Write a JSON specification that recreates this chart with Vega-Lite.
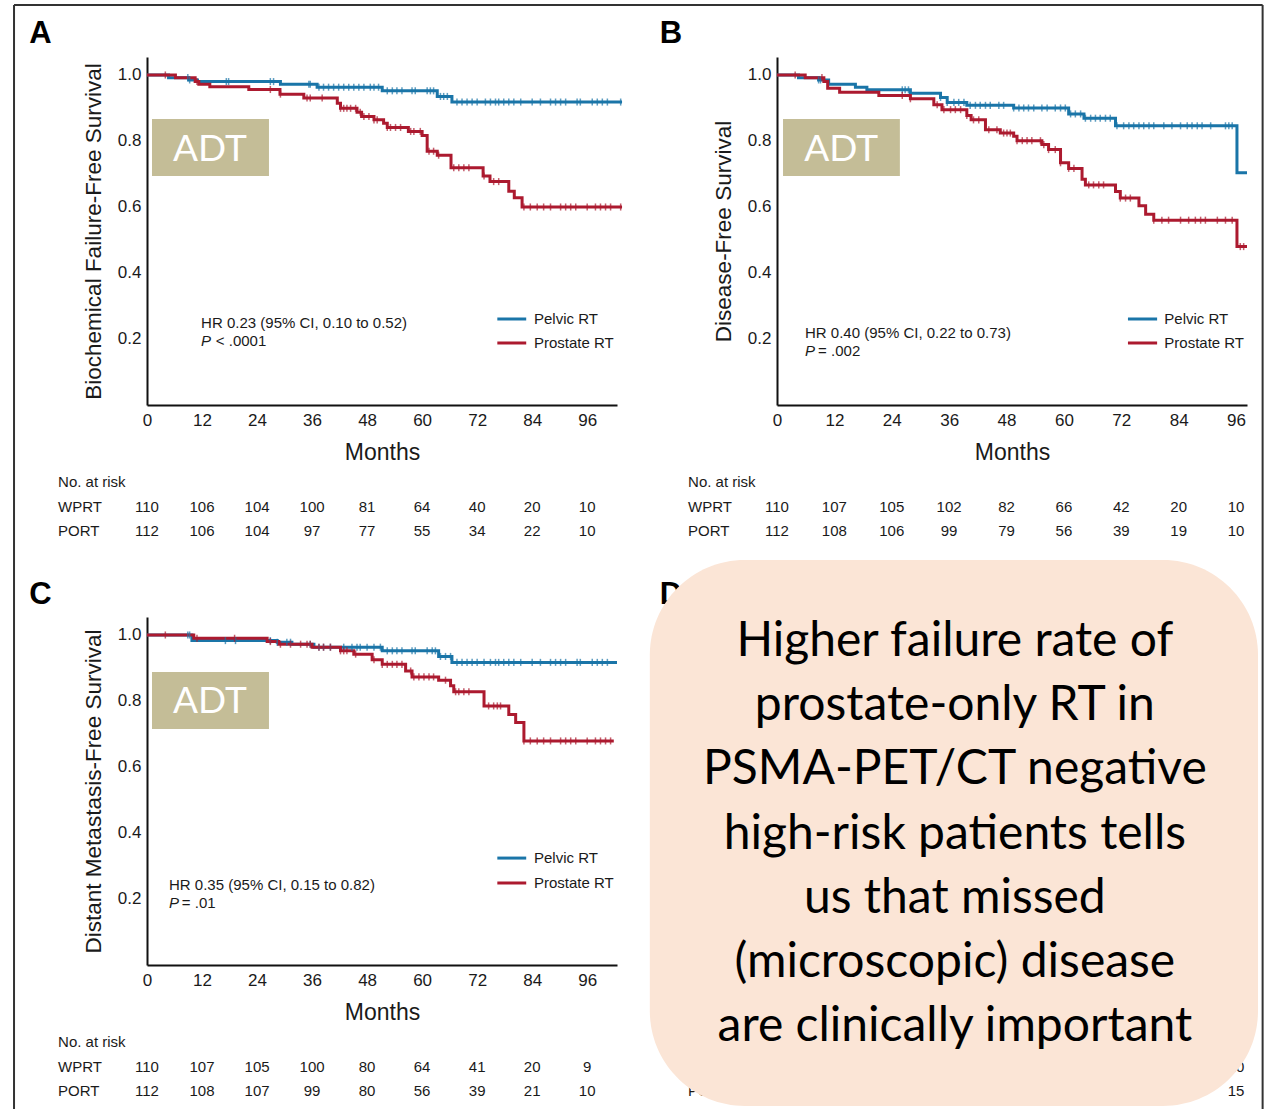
{
"$schema": "https://vega.github.io/schema/vega-lite/v6.json",
"background": "white",
"padding": {"left": 13, "top": 4, "right": 5, "bottom": 0},
"columns": 2,
"spacing": {"row": 212, "column": 160},
"bounds": "flush",
"config": {
 "view": {"stroke": null},
 "axis": {"ticks": false, "grid": false, "domainColor": "#111", "domainWidth": 2, "labelFont": "Liberation Sans", "labelFontSize": 17, "labelColor": "#1a1a1a", "titleFont": "Liberation Sans", "titleFontWeight": "normal", "titleColor": "#1a1a1a", "labelFlush": false},
 "axisX": {"labelPadding": 7, "titleFontSize": 23, "titlePadding": 13},
 "axisY": {"labelPadding": 6, "titleFontSize": 22.5, "titlePadding": 12},
 "text": {"font": "Liberation Sans", "fontSize": 15, "color": "#1a1a1a"}
},
"datasets": {
 "frame": [{"m": -29.0, "v": 1.212, "m2": 243.3, "v2": 1.212}, {"m": -29.0, "v": 1.212, "m2": -29.0, "v2": -2.14}, {"m": 243.3, "v": 1.212, "m2": 243.3, "v2": -2.14}],
 "kmA": [
  {"arm":"pelvic","m":0,"v":1},{"arm":"pelvic","m":4.7,"v":0.992},{"arm":"pelvic","m":9.1,"v":0.985},{"arm":"pelvic","m":11,"v":0.98},{"arm":"pelvic","m":29.1,"v":0.972},{"arm":"pelvic","m":37.1,"v":0.963},{"arm":"pelvic","m":51.3,"v":0.952},{"arm":"pelvic","m":63.3,"v":0.935},{"arm":"pelvic","m":66.5,"v":0.918},{"arm":"pelvic","m":103.6,"v":0.918},
  {"arm":"prostate","m":0,"v":1},{"arm":"prostate","m":6.2,"v":0.992},{"arm":"prostate","m":10.5,"v":0.98},{"arm":"prostate","m":11.3,"v":0.972},{"arm":"prostate","m":13.7,"v":0.964},{"arm":"prostate","m":22.2,"v":0.956},{"arm":"prostate","m":29,"v":0.942},{"arm":"prostate","m":34.2,"v":0.93},{"arm":"prostate","m":41.5,"v":0.914},{"arm":"prostate","m":42.2,"v":0.899},{"arm":"prostate","m":45.8,"v":0.887},{"arm":"prostate","m":46.8,"v":0.874},{"arm":"prostate","m":49.5,"v":0.864},{"arm":"prostate","m":51.6,"v":0.854},{"arm":"prostate","m":52.4,"v":0.841},{"arm":"prostate","m":57,"v":0.829},{"arm":"prostate","m":60,"v":0.817},{"arm":"prostate","m":61.1,"v":0.769},{"arm":"prostate","m":63.3,"v":0.757},{"arm":"prostate","m":66.3,"v":0.719},{"arm":"prostate","m":73.3,"v":0.694},{"arm":"prostate","m":74.8,"v":0.677},{"arm":"prostate","m":78.9,"v":0.648},{"arm":"prostate","m":80.1,"v":0.628},{"arm":"prostate","m":81.8,"v":0.6},{"arm":"prostate","m":103.6,"v":0.6}
 ],
 "cenA": [
  {"arm":"pelvic","m":8.9,"v":0.992},{"arm":"pelvic","m":9.3,"v":0.985},{"arm":"pelvic","m":17.3,"v":0.98},{"arm":"pelvic","m":17.8,"v":0.98},{"arm":"pelvic","m":26.9,"v":0.98},{"arm":"pelvic","m":27.6,"v":0.98},{"arm":"pelvic","m":35.3,"v":0.972},{"arm":"pelvic","m":35.6,"v":0.972},{"arm":"pelvic","m":37.5,"v":0.963},{"arm":"pelvic","m":38.5,"v":0.963},{"arm":"pelvic","m":39.6,"v":0.963},{"arm":"pelvic","m":40.7,"v":0.963},{"arm":"pelvic","m":41.8,"v":0.963},{"arm":"pelvic","m":42.9,"v":0.963},{"arm":"pelvic","m":44,"v":0.963},{"arm":"pelvic","m":45.1,"v":0.963},{"arm":"pelvic","m":46.2,"v":0.963},{"arm":"pelvic","m":47.3,"v":0.963},{"arm":"pelvic","m":48.7,"v":0.963},{"arm":"pelvic","m":49.5,"v":0.963},{"arm":"pelvic","m":50.5,"v":0.963},{"arm":"pelvic","m":52.4,"v":0.952},{"arm":"pelvic","m":53.5,"v":0.952},{"arm":"pelvic","m":54.5,"v":0.952},{"arm":"pelvic","m":55.6,"v":0.952},{"arm":"pelvic","m":57.8,"v":0.952},{"arm":"pelvic","m":58.5,"v":0.952},{"arm":"pelvic","m":61.1,"v":0.952},{"arm":"pelvic","m":61.8,"v":0.952},{"arm":"pelvic","m":62.5,"v":0.952},{"arm":"pelvic","m":64,"v":0.935},{"arm":"pelvic","m":64.7,"v":0.935},{"arm":"pelvic","m":65.5,"v":0.935},{"arm":"pelvic","m":67.6,"v":0.918},{"arm":"pelvic","m":68.7,"v":0.918},{"arm":"pelvic","m":69.8,"v":0.918},{"arm":"pelvic","m":70.9,"v":0.918},{"arm":"pelvic","m":72,"v":0.918},{"arm":"pelvic","m":73.8,"v":0.918},{"arm":"pelvic","m":74.9,"v":0.918},{"arm":"pelvic","m":76,"v":0.918},{"arm":"pelvic","m":76.7,"v":0.918},{"arm":"pelvic","m":77.8,"v":0.918},{"arm":"pelvic","m":78.9,"v":0.918},{"arm":"pelvic","m":80,"v":0.918},{"arm":"pelvic","m":81.5,"v":0.918},{"arm":"pelvic","m":84,"v":0.918},{"arm":"pelvic","m":85.8,"v":0.918},{"arm":"pelvic","m":88,"v":0.918},{"arm":"pelvic","m":89.1,"v":0.918},{"arm":"pelvic","m":90.2,"v":0.918},{"arm":"pelvic","m":91.3,"v":0.918},{"arm":"pelvic","m":93.8,"v":0.918},{"arm":"pelvic","m":94.5,"v":0.918},{"arm":"pelvic","m":97.1,"v":0.918},{"arm":"pelvic","m":98.2,"v":0.918},{"arm":"pelvic","m":99.3,"v":0.918},{"arm":"pelvic","m":100.4,"v":0.918},{"arm":"pelvic","m":103.3,"v":0.918},
  {"arm":"prostate","m":4,"v":1},{"arm":"prostate","m":10.9,"v":0.98},{"arm":"prostate","m":26.9,"v":0.956},{"arm":"prostate","m":29.1,"v":0.942},{"arm":"prostate","m":34.9,"v":0.93},{"arm":"prostate","m":35.6,"v":0.93},{"arm":"prostate","m":38.2,"v":0.93},{"arm":"prostate","m":42.2,"v":0.899},{"arm":"prostate","m":42.9,"v":0.899},{"arm":"prostate","m":43.6,"v":0.899},{"arm":"prostate","m":44.4,"v":0.899},{"arm":"prostate","m":45.5,"v":0.899},{"arm":"prostate","m":46.5,"v":0.887},{"arm":"prostate","m":47.3,"v":0.874},{"arm":"prostate","m":48.4,"v":0.874},{"arm":"prostate","m":49.5,"v":0.864},{"arm":"prostate","m":50.2,"v":0.864},{"arm":"prostate","m":52.4,"v":0.841},{"arm":"prostate","m":53.1,"v":0.841},{"arm":"prostate","m":54.2,"v":0.841},{"arm":"prostate","m":55.3,"v":0.841},{"arm":"prostate","m":57.5,"v":0.829},{"arm":"prostate","m":58.2,"v":0.829},{"arm":"prostate","m":59.6,"v":0.829},{"arm":"prostate","m":61.5,"v":0.769},{"arm":"prostate","m":62.5,"v":0.769},{"arm":"prostate","m":63.6,"v":0.757},{"arm":"prostate","m":66.9,"v":0.719},{"arm":"prostate","m":68,"v":0.719},{"arm":"prostate","m":69.1,"v":0.719},{"arm":"prostate","m":70.2,"v":0.719},{"arm":"prostate","m":73.5,"v":0.694},{"arm":"prostate","m":75.6,"v":0.677},{"arm":"prostate","m":76.7,"v":0.677},{"arm":"prostate","m":82.2,"v":0.6},{"arm":"prostate","m":83.6,"v":0.6},{"arm":"prostate","m":85.1,"v":0.6},{"arm":"prostate","m":86.5,"v":0.6},{"arm":"prostate","m":88,"v":0.6},{"arm":"prostate","m":90.2,"v":0.6},{"arm":"prostate","m":91.3,"v":0.6},{"arm":"prostate","m":92.4,"v":0.6},{"arm":"prostate","m":93.5,"v":0.6},{"arm":"prostate","m":96,"v":0.6},{"arm":"prostate","m":97.8,"v":0.6},{"arm":"prostate","m":98.9,"v":0.6},{"arm":"prostate","m":100,"v":0.6},{"arm":"prostate","m":101.1,"v":0.6},{"arm":"prostate","m":103.3,"v":0.6}
 ],
 "kmB": [
  {"arm":"pelvic","m":0,"v":1},{"arm":"pelvic","m":4.5,"v":0.992},{"arm":"pelvic","m":8.7,"v":0.985},{"arm":"pelvic","m":10.8,"v":0.972},{"arm":"pelvic","m":16.4,"v":0.963},{"arm":"pelvic","m":18.8,"v":0.955},{"arm":"pelvic","m":27.9,"v":0.945},{"arm":"pelvic","m":34.2,"v":0.932},{"arm":"pelvic","m":35.6,"v":0.917},{"arm":"pelvic","m":39.7,"v":0.908},{"arm":"pelvic","m":49.5,"v":0.9},{"arm":"pelvic","m":61,"v":0.882},{"arm":"pelvic","m":64.2,"v":0.869},{"arm":"pelvic","m":70.8,"v":0.846},{"arm":"pelvic","m":96.2,"v":0.704},{"arm":"pelvic","m":98.3,"v":0.704},
  {"arm":"prostate","m":0,"v":1},{"arm":"prostate","m":5.9,"v":0.992},{"arm":"prostate","m":9.8,"v":0.98},{"arm":"prostate","m":10.6,"v":0.96},{"arm":"prostate","m":13.1,"v":0.948},{"arm":"prostate","m":21.3,"v":0.938},{"arm":"prostate","m":27.9,"v":0.928},{"arm":"prostate","m":32.8,"v":0.91},{"arm":"prostate","m":34.5,"v":0.895},{"arm":"prostate","m":39.7,"v":0.877},{"arm":"prostate","m":40.6,"v":0.864},{"arm":"prostate","m":43.6,"v":0.834},{"arm":"prostate","m":46.7,"v":0.824},{"arm":"prostate","m":49.5,"v":0.814},{"arm":"prostate","m":50.2,"v":0.801},{"arm":"prostate","m":55.4,"v":0.789},{"arm":"prostate","m":56.8,"v":0.774},{"arm":"prostate","m":59.3,"v":0.734},{"arm":"prostate","m":61,"v":0.717},{"arm":"prostate","m":63.8,"v":0.684},{"arm":"prostate","m":64.5,"v":0.667},{"arm":"prostate","m":70.8,"v":0.647},{"arm":"prostate","m":71.8,"v":0.627},{"arm":"prostate","m":75.7,"v":0.604},{"arm":"prostate","m":77.1,"v":0.578},{"arm":"prostate","m":78.8,"v":0.56},{"arm":"prostate","m":96.2,"v":0.48},{"arm":"prostate","m":98.3,"v":0.48}
 ],
 "cenB": [
  {"arm":"pelvic","m":8.7,"v":0.985},{"arm":"pelvic","m":9.1,"v":0.985},{"arm":"pelvic","m":26.2,"v":0.955},{"arm":"pelvic","m":26.8,"v":0.955},{"arm":"pelvic","m":27.5,"v":0.955},{"arm":"pelvic","m":34.2,"v":0.932},{"arm":"pelvic","m":35.6,"v":0.917},{"arm":"pelvic","m":37,"v":0.917},{"arm":"pelvic","m":38,"v":0.917},{"arm":"pelvic","m":39.1,"v":0.917},{"arm":"pelvic","m":40.4,"v":0.908},{"arm":"pelvic","m":41.5,"v":0.908},{"arm":"pelvic","m":42.5,"v":0.908},{"arm":"pelvic","m":43.6,"v":0.908},{"arm":"pelvic","m":44.6,"v":0.908},{"arm":"pelvic","m":46.4,"v":0.908},{"arm":"pelvic","m":47.4,"v":0.908},{"arm":"pelvic","m":49.5,"v":0.9},{"arm":"pelvic","m":50.6,"v":0.9},{"arm":"pelvic","m":51.6,"v":0.9},{"arm":"pelvic","m":52.6,"v":0.9},{"arm":"pelvic","m":53.7,"v":0.9},{"arm":"pelvic","m":55.4,"v":0.9},{"arm":"pelvic","m":56.5,"v":0.9},{"arm":"pelvic","m":58.2,"v":0.9},{"arm":"pelvic","m":59.3,"v":0.9},{"arm":"pelvic","m":60.3,"v":0.9},{"arm":"pelvic","m":61.4,"v":0.882},{"arm":"pelvic","m":62.4,"v":0.882},{"arm":"pelvic","m":63.5,"v":0.882},{"arm":"pelvic","m":64.5,"v":0.869},{"arm":"pelvic","m":65.6,"v":0.869},{"arm":"pelvic","m":66.6,"v":0.869},{"arm":"pelvic","m":67.6,"v":0.869},{"arm":"pelvic","m":68.7,"v":0.869},{"arm":"pelvic","m":69.7,"v":0.869},{"arm":"pelvic","m":71.1,"v":0.846},{"arm":"pelvic","m":72.5,"v":0.846},{"arm":"pelvic","m":73.6,"v":0.846},{"arm":"pelvic","m":74.6,"v":0.846},{"arm":"pelvic","m":75.7,"v":0.846},{"arm":"pelvic","m":76.7,"v":0.846},{"arm":"pelvic","m":77.8,"v":0.846},{"arm":"pelvic","m":78.8,"v":0.846},{"arm":"pelvic","m":80.9,"v":0.846},{"arm":"pelvic","m":82.6,"v":0.846},{"arm":"pelvic","m":84.4,"v":0.846},{"arm":"pelvic","m":85.8,"v":0.846},{"arm":"pelvic","m":86.8,"v":0.846},{"arm":"pelvic","m":87.9,"v":0.846},{"arm":"pelvic","m":88.9,"v":0.846},{"arm":"pelvic","m":90.7,"v":0.846},{"arm":"pelvic","m":93.8,"v":0.846},{"arm":"pelvic","m":94.5,"v":0.846},{"arm":"pelvic","m":95.2,"v":0.846},
  {"arm":"prostate","m":3.8,"v":1},{"arm":"prostate","m":9.4,"v":0.992},{"arm":"prostate","m":26.2,"v":0.938},{"arm":"prostate","m":27.9,"v":0.928},{"arm":"prostate","m":33.5,"v":0.91},{"arm":"prostate","m":34.9,"v":0.895},{"arm":"prostate","m":36.3,"v":0.895},{"arm":"prostate","m":37.3,"v":0.895},{"arm":"prostate","m":38.4,"v":0.895},{"arm":"prostate","m":39.7,"v":0.877},{"arm":"prostate","m":41.1,"v":0.864},{"arm":"prostate","m":42.2,"v":0.864},{"arm":"prostate","m":44.3,"v":0.834},{"arm":"prostate","m":46,"v":0.834},{"arm":"prostate","m":47.4,"v":0.824},{"arm":"prostate","m":48.1,"v":0.824},{"arm":"prostate","m":48.8,"v":0.824},{"arm":"prostate","m":50.2,"v":0.801},{"arm":"prostate","m":51.3,"v":0.801},{"arm":"prostate","m":52.3,"v":0.801},{"arm":"prostate","m":53.3,"v":0.801},{"arm":"prostate","m":55.1,"v":0.801},{"arm":"prostate","m":55.8,"v":0.789},{"arm":"prostate","m":56.8,"v":0.774},{"arm":"prostate","m":58.2,"v":0.774},{"arm":"prostate","m":59.3,"v":0.734},{"arm":"prostate","m":61,"v":0.717},{"arm":"prostate","m":62.1,"v":0.717},{"arm":"prostate","m":65.2,"v":0.667},{"arm":"prostate","m":66.2,"v":0.667},{"arm":"prostate","m":67.3,"v":0.667},{"arm":"prostate","m":68.3,"v":0.667},{"arm":"prostate","m":71.8,"v":0.627},{"arm":"prostate","m":72.9,"v":0.627},{"arm":"prostate","m":73.9,"v":0.627},{"arm":"prostate","m":78.8,"v":0.56},{"arm":"prostate","m":80.5,"v":0.56},{"arm":"prostate","m":81.9,"v":0.56},{"arm":"prostate","m":84.4,"v":0.56},{"arm":"prostate","m":86.1,"v":0.56},{"arm":"prostate","m":87.5,"v":0.56},{"arm":"prostate","m":88.6,"v":0.56},{"arm":"prostate","m":89.6,"v":0.56},{"arm":"prostate","m":92.1,"v":0.56},{"arm":"prostate","m":93.8,"v":0.56},{"arm":"prostate","m":95.2,"v":0.56},{"arm":"prostate","m":96.9,"v":0.48},{"arm":"prostate","m":97.6,"v":0.48}
 ],
 "kmC": [
  {"arm":"pelvic","m":0,"v":1},{"arm":"pelvic","m":9.8,"v":0.983},{"arm":"pelvic","m":28.4,"v":0.978},{"arm":"pelvic","m":31.6,"v":0.972},{"arm":"pelvic","m":36.4,"v":0.963},{"arm":"pelvic","m":51.3,"v":0.952},{"arm":"pelvic","m":63.6,"v":0.935},{"arm":"pelvic","m":66.5,"v":0.917},{"arm":"pelvic","m":102.5,"v":0.917},
  {"arm":"prostate","m":0,"v":1},{"arm":"prostate","m":10.2,"v":0.99},{"arm":"prostate","m":26.2,"v":0.98},{"arm":"prostate","m":28.7,"v":0.972},{"arm":"prostate","m":36,"v":0.963},{"arm":"prostate","m":42.2,"v":0.952},{"arm":"prostate","m":45.1,"v":0.942},{"arm":"prostate","m":49.1,"v":0.925},{"arm":"prostate","m":51.3,"v":0.911},{"arm":"prostate","m":56.4,"v":0.891},{"arm":"prostate","m":57.8,"v":0.873},{"arm":"prostate","m":63.6,"v":0.863},{"arm":"prostate","m":66.2,"v":0.846},{"arm":"prostate","m":66.9,"v":0.828},{"arm":"prostate","m":73.5,"v":0.785},{"arm":"prostate","m":78.9,"v":0.759},{"arm":"prostate","m":80.4,"v":0.735},{"arm":"prostate","m":82.2,"v":0.679},{"arm":"prostate","m":101.8,"v":0.679}
 ],
 "cenC": [
  {"arm":"pelvic","m":8.9,"v":1},{"arm":"pelvic","m":9.3,"v":1},{"arm":"pelvic","m":17.1,"v":0.983},{"arm":"pelvic","m":19.3,"v":0.983},{"arm":"pelvic","m":26.9,"v":0.983},{"arm":"pelvic","m":28.4,"v":0.978},{"arm":"pelvic","m":30.5,"v":0.978},{"arm":"pelvic","m":31.3,"v":0.978},{"arm":"pelvic","m":35.6,"v":0.972},{"arm":"pelvic","m":37.5,"v":0.963},{"arm":"pelvic","m":38.5,"v":0.963},{"arm":"pelvic","m":40,"v":0.963},{"arm":"pelvic","m":42.9,"v":0.963},{"arm":"pelvic","m":44.7,"v":0.963},{"arm":"pelvic","m":45.8,"v":0.963},{"arm":"pelvic","m":46.5,"v":0.963},{"arm":"pelvic","m":48,"v":0.963},{"arm":"pelvic","m":49.5,"v":0.963},{"arm":"pelvic","m":50.9,"v":0.963},{"arm":"pelvic","m":52.4,"v":0.952},{"arm":"pelvic","m":53.5,"v":0.952},{"arm":"pelvic","m":54.5,"v":0.952},{"arm":"pelvic","m":55.6,"v":0.952},{"arm":"pelvic","m":57.8,"v":0.952},{"arm":"pelvic","m":58.5,"v":0.952},{"arm":"pelvic","m":61.1,"v":0.952},{"arm":"pelvic","m":62.2,"v":0.952},{"arm":"pelvic","m":62.9,"v":0.952},{"arm":"pelvic","m":64,"v":0.935},{"arm":"pelvic","m":65.1,"v":0.935},{"arm":"pelvic","m":66.2,"v":0.935},{"arm":"pelvic","m":67.6,"v":0.917},{"arm":"pelvic","m":68.7,"v":0.917},{"arm":"pelvic","m":69.8,"v":0.917},{"arm":"pelvic","m":70.9,"v":0.917},{"arm":"pelvic","m":72,"v":0.917},{"arm":"pelvic","m":73.5,"v":0.917},{"arm":"pelvic","m":74.9,"v":0.917},{"arm":"pelvic","m":76,"v":0.917},{"arm":"pelvic","m":76.7,"v":0.917},{"arm":"pelvic","m":77.8,"v":0.917},{"arm":"pelvic","m":78.9,"v":0.917},{"arm":"pelvic","m":80,"v":0.917},{"arm":"pelvic","m":81.5,"v":0.917},{"arm":"pelvic","m":84,"v":0.917},{"arm":"pelvic","m":85.8,"v":0.917},{"arm":"pelvic","m":88,"v":0.917},{"arm":"pelvic","m":89.1,"v":0.917},{"arm":"pelvic","m":90.2,"v":0.917},{"arm":"pelvic","m":91.3,"v":0.917},{"arm":"pelvic","m":93.8,"v":0.917},{"arm":"pelvic","m":94.5,"v":0.917},{"arm":"pelvic","m":97.1,"v":0.917},{"arm":"pelvic","m":98.2,"v":0.917},{"arm":"pelvic","m":99.3,"v":0.917},{"arm":"pelvic","m":100.4,"v":0.917},
  {"arm":"prostate","m":4,"v":1},{"arm":"prostate","m":10.9,"v":0.99},{"arm":"prostate","m":19.1,"v":0.99},{"arm":"prostate","m":26.9,"v":0.98},{"arm":"prostate","m":29.1,"v":0.972},{"arm":"prostate","m":31.3,"v":0.972},{"arm":"prostate","m":33.5,"v":0.972},{"arm":"prostate","m":34.9,"v":0.972},{"arm":"prostate","m":35.6,"v":0.972},{"arm":"prostate","m":37.5,"v":0.963},{"arm":"prostate","m":38.5,"v":0.963},{"arm":"prostate","m":40,"v":0.963},{"arm":"prostate","m":42.2,"v":0.952},{"arm":"prostate","m":42.9,"v":0.952},{"arm":"prostate","m":43.6,"v":0.952},{"arm":"prostate","m":45.5,"v":0.942},{"arm":"prostate","m":49.5,"v":0.925},{"arm":"prostate","m":51.3,"v":0.911},{"arm":"prostate","m":52.4,"v":0.911},{"arm":"prostate","m":53.5,"v":0.911},{"arm":"prostate","m":54.5,"v":0.911},{"arm":"prostate","m":55.6,"v":0.911},{"arm":"prostate","m":57.5,"v":0.891},{"arm":"prostate","m":58.2,"v":0.873},{"arm":"prostate","m":59.3,"v":0.873},{"arm":"prostate","m":60.4,"v":0.873},{"arm":"prostate","m":61.5,"v":0.873},{"arm":"prostate","m":62.5,"v":0.873},{"arm":"prostate","m":65.1,"v":0.863},{"arm":"prostate","m":67.3,"v":0.828},{"arm":"prostate","m":68,"v":0.828},{"arm":"prostate","m":69.1,"v":0.828},{"arm":"prostate","m":70.2,"v":0.828},{"arm":"prostate","m":74.5,"v":0.785},{"arm":"prostate","m":75.6,"v":0.785},{"arm":"prostate","m":76.4,"v":0.785},{"arm":"prostate","m":77.1,"v":0.785},{"arm":"prostate","m":82.2,"v":0.679},{"arm":"prostate","m":83.6,"v":0.679},{"arm":"prostate","m":85.1,"v":0.679},{"arm":"prostate","m":86.5,"v":0.679},{"arm":"prostate","m":88,"v":0.679},{"arm":"prostate","m":90.2,"v":0.679},{"arm":"prostate","m":91.3,"v":0.679},{"arm":"prostate","m":92.4,"v":0.679},{"arm":"prostate","m":93.5,"v":0.679},{"arm":"prostate","m":96,"v":0.679},{"arm":"prostate","m":97.8,"v":0.679},{"arm":"prostate","m":98.9,"v":0.679},{"arm":"prostate","m":100,"v":0.679},{"arm":"prostate","m":101.1,"v":0.679}
 ],
 "riskA": [
  {"m":0,"v":-0.309,"t":"110"},{"m":12,"v":-0.309,"t":"106"},{"m":24,"v":-0.309,"t":"104"},{"m":36,"v":-0.309,"t":"100"},{"m":48,"v":-0.309,"t":"81"},{"m":60,"v":-0.309,"t":"64"},{"m":72,"v":-0.309,"t":"40"},{"m":84,"v":-0.309,"t":"20"},{"m":96,"v":-0.309,"t":"10"},
  {"m":0,"v":-0.382,"t":"112"},{"m":12,"v":-0.382,"t":"106"},{"m":24,"v":-0.382,"t":"104"},{"m":36,"v":-0.382,"t":"97"},{"m":48,"v":-0.382,"t":"77"},{"m":60,"v":-0.382,"t":"55"},{"m":72,"v":-0.382,"t":"34"},{"m":84,"v":-0.382,"t":"22"},{"m":96,"v":-0.382,"t":"10"}
 ],
 "riskB": [
  {"m":0,"v":-0.309,"t":"110"},{"m":12,"v":-0.309,"t":"107"},{"m":24,"v":-0.309,"t":"105"},{"m":36,"v":-0.309,"t":"102"},{"m":48,"v":-0.309,"t":"82"},{"m":60,"v":-0.309,"t":"66"},{"m":72,"v":-0.309,"t":"42"},{"m":84,"v":-0.309,"t":"20"},{"m":96,"v":-0.309,"t":"10"},
  {"m":0,"v":-0.382,"t":"112"},{"m":12,"v":-0.382,"t":"108"},{"m":24,"v":-0.382,"t":"106"},{"m":36,"v":-0.382,"t":"99"},{"m":48,"v":-0.382,"t":"79"},{"m":60,"v":-0.382,"t":"56"},{"m":72,"v":-0.382,"t":"39"},{"m":84,"v":-0.382,"t":"19"},{"m":96,"v":-0.382,"t":"10"}
 ],
 "riskC": [
  {"m":0,"v":-0.309,"t":"110"},{"m":12,"v":-0.309,"t":"107"},{"m":24,"v":-0.309,"t":"105"},{"m":36,"v":-0.309,"t":"100"},{"m":48,"v":-0.309,"t":"80"},{"m":60,"v":-0.309,"t":"64"},{"m":72,"v":-0.309,"t":"41"},{"m":84,"v":-0.309,"t":"20"},{"m":96,"v":-0.309,"t":"9"},
  {"m":0,"v":-0.382,"t":"112"},{"m":12,"v":-0.382,"t":"108"},{"m":24,"v":-0.382,"t":"107"},{"m":36,"v":-0.382,"t":"99"},{"m":48,"v":-0.382,"t":"80"},{"m":60,"v":-0.382,"t":"56"},{"m":72,"v":-0.382,"t":"39"},{"m":84,"v":-0.382,"t":"21"},{"m":96,"v":-0.382,"t":"10"}
 ],
 "riskD": [{"m":96,"v":-0.309,"t":"10"},{"m":96,"v":-0.382,"t":"15"}],
 "rlabAC": [{"m":-19.4,"v":-0.234,"t":"No. at risk"},{"m":-19.4,"v":-0.309,"t":"WPRT"},{"m":-19.4,"v":-0.382,"t":"PORT"}],
 "rlabBD": [{"m":-18.6,"v":-0.234,"t":"No. at risk"},{"m":-18.6,"v":-0.309,"t":"WPRT"},{"m":-18.6,"v":-0.382,"t":"PORT"}],
 "rlabD": [{"m":-18.6,"v":-0.382,"t":"PORT"}]
},
"concat": [
 {
  "width": 470, "height": 348,
  "encoding": {
   "x": {"field": "m", "type": "quantitative", "scale": {"domain": [0, 102.5], "nice": false, "zero": false}, "axis": {"values": [0,12,24,36,48,60,72,84,96], "title": "Months"}},
   "y": {"field": "v", "type": "quantitative", "scale": {"domain": [0, 1.0545], "nice": false, "zero": false}, "axis": {"values": [0.2,0.4,0.6,0.8,1.0], "format": ".1f", "title": "Biochemical Failure-Free Survival"}}
  },
  "layer": [
   {"data": {"name": "frame"}, "mark": {"type": "rule", "strokeWidth": 2, "color": "#333"}, "encoding": {"x2": {"field": "m2"}, "y2": {"field": "v2"}}},
   {"data": {"values": [{"m": 1.09, "m2": 26.6, "v": 0.867, "v2": 0.694}]}, "mark": {"type": "rect", "color": "#C4BD97"}, "encoding": {"x2": {"field": "m2"}, "y2": {"field": "v2"}}},
   {"data": {"values": [{"m": 13.7, "v": 0.773, "t": "ADT"}]}, "mark": {"type": "text", "font": "Lato", "fontSize": 37, "color": "white", "align": "center", "baseline": "middle"}, "encoding": {"text": {"field": "t"}}},
   {"data": {"name": "kmA"}, "mark": {"type": "line", "interpolate": "step-after", "strokeWidth": 3}, "encoding": {"color": {"field": "arm", "type": "nominal", "scale": {"domain": ["pelvic","prostate"], "range": ["#1A75A8","#AC1A2F"]}, "legend": null}}},
   {"data": {"name": "cenA"}, "mark": {"type": "point", "shape": "M0,-1L0,1", "size": 50, "strokeWidth": 1.5}, "encoding": {"color": {"field": "arm", "type": "nominal", "scale": {"domain": ["pelvic","prostate"], "range": ["#1A75A8","#AC1A2F"]}, "legend": null}}},
   {"data": {"values": [{"m": 11.8, "v": 0.2485, "t": "HR 0.23 (95% CI, 0.10 to 0.52)"}, {"m": 15.0, "v": 0.194, "t": "< .0001"}]}, "mark": {"type": "text", "align": "left", "baseline": "middle"}, "encoding": {"text": {"field": "t"}}},
   {"data": {"values": [{"m": 11.8, "v": 0.194, "t": "P"}]}, "mark": {"type": "text", "align": "left", "baseline": "middle", "fontStyle": "italic"}, "encoding": {"text": {"field": "t"}}},
   {"data": {"values": [{"arm": "pelvic", "m": 76.4, "m2": 82.7, "v": 0.2606}, {"arm": "prostate", "m": 76.4, "m2": 82.7, "v": 0.1879}]}, "mark": {"type": "rule", "strokeWidth": 3}, "encoding": {"x2": {"field": "m2"}, "color": {"field": "arm", "type": "nominal", "scale": {"domain": ["pelvic","prostate"], "range": ["#1A75A8","#AC1A2F"]}, "legend": null}}},
   {"data": {"values": [{"m": 84.4, "v": 0.2606, "t": "Pelvic RT"}, {"m": 84.4, "v": 0.1879, "t": "Prostate RT"}]}, "mark": {"type": "text", "align": "left", "baseline": "middle"}, "encoding": {"text": {"field": "t"}}},
   {"data": {"name": "rlabAC"}, "mark": {"type": "text", "align": "left", "baseline": "middle"}, "encoding": {"text": {"field": "t"}}},
   {"data": {"name": "riskA"}, "mark": {"type": "text", "align": "center", "baseline": "middle"}, "encoding": {"text": {"field": "t"}}},
   {"data": {"values": [{"m": -25.7, "v": 1.097, "t": "A"}]}, "mark": {"type": "text", "align": "left", "baseline": "alphabetic", "fontSize": 31, "fontWeight": "bold", "font": "Liberation Sans", "color": "#000"}, "encoding": {"text": {"field": "t"}}}
  ]
 },
 {
  "width": 470, "height": 348,
  "encoding": {
   "x": {"field": "m", "type": "quantitative", "scale": {"domain": [0, 98.3], "nice": false, "zero": false}, "axis": {"values": [0,12,24,36,48,60,72,84,96], "title": "Months"}},
   "y": {"field": "v", "type": "quantitative", "scale": {"domain": [0, 1.0545], "nice": false, "zero": false}, "axis": {"values": [0.2,0.4,0.6,0.8,1.0], "format": ".1f", "title": "Disease-Free Survival"}}
  },
  "layer": [
   {"data": {"values": [{"m": 1.26, "m2": 25.7, "v": 0.867, "v2": 0.694}]}, "mark": {"type": "rect", "color": "#C4BD97"}, "encoding": {"x2": {"field": "m2"}, "y2": {"field": "v2"}}},
   {"data": {"values": [{"m": 13.4, "v": 0.773, "t": "ADT"}]}, "mark": {"type": "text", "font": "Lato", "fontSize": 37, "color": "white", "align": "center", "baseline": "middle"}, "encoding": {"text": {"field": "t"}}},
   {"data": {"name": "kmB"}, "mark": {"type": "line", "interpolate": "step-after", "strokeWidth": 3}, "encoding": {"color": {"field": "arm", "type": "nominal", "scale": {"domain": ["pelvic","prostate"], "range": ["#1A75A8","#AC1A2F"]}, "legend": null}}},
   {"data": {"name": "cenB"}, "mark": {"type": "point", "shape": "M0,-1L0,1", "size": 50, "strokeWidth": 1.5}, "encoding": {"color": {"field": "arm", "type": "nominal", "scale": {"domain": ["pelvic","prostate"], "range": ["#1A75A8","#AC1A2F"]}, "legend": null}}},
   {"data": {"values": [{"m": 5.86, "v": 0.218, "t": "HR 0.40 (95% CI, 0.22 to 0.73)"}, {"m": 8.6, "v": 0.164, "t": "= .002"}]}, "mark": {"type": "text", "align": "left", "baseline": "middle"}, "encoding": {"text": {"field": "t"}}},
   {"data": {"values": [{"m": 5.86, "v": 0.164, "t": "P"}]}, "mark": {"type": "text", "align": "left", "baseline": "middle", "fontStyle": "italic"}, "encoding": {"text": {"field": "t"}}},
   {"data": {"values": [{"arm": "pelvic", "m": 73.4, "m2": 79.5, "v": 0.2606}, {"arm": "prostate", "m": 73.4, "m2": 79.5, "v": 0.1879}]}, "mark": {"type": "rule", "strokeWidth": 3}, "encoding": {"x2": {"field": "m2"}, "color": {"field": "arm", "type": "nominal", "scale": {"domain": ["pelvic","prostate"], "range": ["#1A75A8","#AC1A2F"]}, "legend": null}}},
   {"data": {"values": [{"m": 81.0, "v": 0.2606, "t": "Pelvic RT"}, {"m": 81.0, "v": 0.1879, "t": "Prostate RT"}]}, "mark": {"type": "text", "align": "left", "baseline": "middle"}, "encoding": {"text": {"field": "t"}}},
   {"data": {"name": "rlabBD"}, "mark": {"type": "text", "align": "left", "baseline": "middle"}, "encoding": {"text": {"field": "t"}}},
   {"data": {"name": "riskB"}, "mark": {"type": "text", "align": "center", "baseline": "middle"}, "encoding": {"text": {"field": "t"}}},
   {"data": {"values": [{"m": -24.5, "v": 1.097, "t": "B"}]}, "mark": {"type": "text", "align": "left", "baseline": "alphabetic", "fontSize": 31, "fontWeight": "bold", "font": "Liberation Sans", "color": "#000"}, "encoding": {"text": {"field": "t"}}}
  ]
 },
 {
  "width": 470, "height": 348,
  "encoding": {
   "x": {"field": "m", "type": "quantitative", "scale": {"domain": [0, 102.5], "nice": false, "zero": false}, "axis": {"values": [0,12,24,36,48,60,72,84,96], "title": "Months"}},
   "y": {"field": "v", "type": "quantitative", "scale": {"domain": [0, 1.0545], "nice": false, "zero": false}, "axis": {"values": [0.2,0.4,0.6,0.8,1.0], "format": ".1f", "title": "Distant Metastasis-Free Survival"}}
  },
  "layer": [
   {"data": {"values": [{"m": 1.09, "m2": 26.6, "v": 0.888, "v2": 0.715}]}, "mark": {"type": "rect", "color": "#C4BD97"}, "encoding": {"x2": {"field": "m2"}, "y2": {"field": "v2"}}},
   {"data": {"values": [{"m": 13.7, "v": 0.797, "t": "ADT"}]}, "mark": {"type": "text", "font": "Lato", "fontSize": 37, "color": "white", "align": "center", "baseline": "middle"}, "encoding": {"text": {"field": "t"}}},
   {"data": {"name": "kmC"}, "mark": {"type": "line", "interpolate": "step-after", "strokeWidth": 3}, "encoding": {"color": {"field": "arm", "type": "nominal", "scale": {"domain": ["pelvic","prostate"], "range": ["#1A75A8","#AC1A2F"]}, "legend": null}}},
   {"data": {"name": "cenC"}, "mark": {"type": "point", "shape": "M0,-1L0,1", "size": 50, "strokeWidth": 1.5}, "encoding": {"color": {"field": "arm", "type": "nominal", "scale": {"domain": ["pelvic","prostate"], "range": ["#1A75A8","#AC1A2F"]}, "legend": null}}},
   {"data": {"values": [{"m": 4.8, "v": 0.242, "t": "HR 0.35 (95% CI, 0.15 to 0.82)"}, {"m": 7.6, "v": 0.188, "t": "= .01"}]}, "mark": {"type": "text", "align": "left", "baseline": "middle"}, "encoding": {"text": {"field": "t"}}},
   {"data": {"values": [{"m": 4.8, "v": 0.188, "t": "P"}]}, "mark": {"type": "text", "align": "left", "baseline": "middle", "fontStyle": "italic"}, "encoding": {"text": {"field": "t"}}},
   {"data": {"values": [{"arm": "pelvic", "m": 76.4, "m2": 82.7, "v": 0.324}, {"arm": "prostate", "m": 76.4, "m2": 82.7, "v": 0.2485}]}, "mark": {"type": "rule", "strokeWidth": 3}, "encoding": {"x2": {"field": "m2"}, "color": {"field": "arm", "type": "nominal", "scale": {"domain": ["pelvic","prostate"], "range": ["#1A75A8","#AC1A2F"]}, "legend": null}}},
   {"data": {"values": [{"m": 84.4, "v": 0.324, "t": "Pelvic RT"}, {"m": 84.4, "v": 0.2485, "t": "Prostate RT"}]}, "mark": {"type": "text", "align": "left", "baseline": "middle"}, "encoding": {"text": {"field": "t"}}},
   {"data": {"name": "rlabAC"}, "mark": {"type": "text", "align": "left", "baseline": "middle"}, "encoding": {"text": {"field": "t"}}},
   {"data": {"name": "riskC"}, "mark": {"type": "text", "align": "center", "baseline": "middle"}, "encoding": {"text": {"field": "t"}}},
   {"data": {"values": [{"m": -25.7, "v": 1.094, "t": "C"}]}, "mark": {"type": "text", "align": "left", "baseline": "alphabetic", "fontSize": 31, "fontWeight": "bold", "font": "Liberation Sans", "color": "#000"}, "encoding": {"text": {"field": "t"}}}
  ]
 },
 {
  "width": 470, "height": 348,
  "encoding": {
   "x": {"field": "m", "type": "quantitative", "scale": {"domain": [0, 98.3], "nice": false, "zero": false}, "axis": null},
   "y": {"field": "v", "type": "quantitative", "scale": {"domain": [0, 1.0545], "nice": false, "zero": false}, "axis": null}
  },
  "layer": [
   {"data": {"values": [{"m": -24.5, "v": 1.094, "t": "D"}]}, "mark": {"type": "text", "align": "left", "baseline": "alphabetic", "fontSize": 31, "fontWeight": "bold", "font": "Liberation Sans", "color": "#000"}, "encoding": {"text": {"field": "t"}}},
   {"data": {"name": "rlabD"}, "mark": {"type": "text", "align": "left", "baseline": "middle"}, "encoding": {"text": {"field": "t"}}},
   {"data": {"name": "riskD"}, "mark": {"type": "text", "align": "center", "baseline": "middle"}, "encoding": {"text": {"field": "t"}}},
   {"data": {"values": [{"m": -26.6, "m2": 100.6, "v": 1.227, "v2": -0.427}]}, "mark": {"type": "rect", "color": "#FBE5D6", "cornerRadius": 95}, "encoding": {"x2": {"field": "m2"}, "y2": {"field": "v2"}}},
   {"data": {"values": [{"m": 37.2, "v": 0.979, "t": "Higher failure rate of\nprostate-only RT in\nPSMA-PET/CT negative\nhigh-risk patients tells\nus that missed\n(microscopic) disease\nare clinically important"}]}, "mark": {"type": "text", "font": "Lato", "fontSize": 48, "lineHeight": 64.2, "lineBreak": "\n", "align": "center", "baseline": "middle", "color": "#000"}, "encoding": {"text": {"field": "t"}}}
  ]
 }
]
}
